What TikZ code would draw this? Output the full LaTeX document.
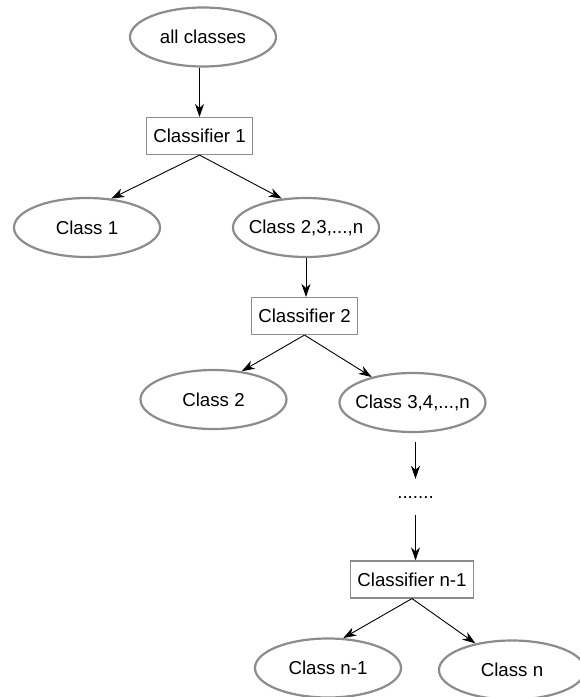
\documentclass[tikz,border=0pt]{standalone}
\usepackage{fontspec}
\setmainfont{Liberation Sans}
\usetikzlibrary{arrows.meta}
\usetikzlibrary{shapes.geometric}

\newcommand{\clstext}[1]{\makebox[0pt]{#1}}

\begin{document}
\begin{tikzpicture}[x=1pt, y=-1pt,
		every node/.style={font=\fontsize{18.7}{22}\selectfont},
		cls/.style={ellipse, draw=black!45, line width=2.2pt, fill=white, minimum width=146pt, minimum height=59pt, inner sep=0pt},
		clf/.style={rectangle, draw=black!45, line width=1.1pt, fill=white, minimum height=37pt, inner xsep=6.5pt, inner ysep=0pt},
		flow/.style={-{Stealth[length=13pt, width=9pt, inset=4pt]}, line width=0.9pt}]
		\useasboundingbox (0,0) rectangle (580,697);

		% first split
		\node[cls] (allclasses) at (203,37) {\clstext{all classes}};
		\node[clf] (clf1) at (199.5,136) {Classifier 1};
		\node[cls] (cls1) at (87,227.5) {\clstext{Class 1}};
		\node[cls] (cls2n) at (306,227.5) {\clstext{Class 2,3,...,n}};
		\draw[flow] (clf1.north |- allclasses.south) -- (clf1.north);
		\draw[flow] (clf1.south) -- (cls1.50);
		\draw[flow] (clf1.south) -- (cls2n.130);

		% second split
		\node[clf] (clf2) at (304.5,316) {Classifier 2};
		\node[cls] (cls2) at (213.5,399.5) {\clstext{Class 2}};
		\node[cls] (cls3n) at (412.5,402.5) {\clstext{Class 3,4,...,n}};
		\draw[flow] (cls2n.south) -- (cls2n.south |- clf2.north);
		\draw[flow] (clf2.south) -- (cls2.45);
		\draw[flow] (clf2.south) -- (cls3n.148);

		% last split
		\node[inner sep=0pt, minimum height=36pt] (dots) at (415.5,497) {.......};
		\node[clf] (clf3) at (412,579.5) {Classifier n-1};
		\node[cls] (clsn1) at (328,668) {\clstext{Class n-1}};
		\node[cls] (clsn) at (512,670) {\clstext{Class n}};
		\draw[flow, shorten <=9pt] (dots.north |- cls3n.south) -- (dots.north);
		\draw[flow] (dots.south) -- (dots.south |- clf3.north);
		\draw[flow] (clf3.south) -- (clsn1.63);
		\draw[flow] (clf3.south) -- (clsn.144);
	\end{tikzpicture}
\end{document}
